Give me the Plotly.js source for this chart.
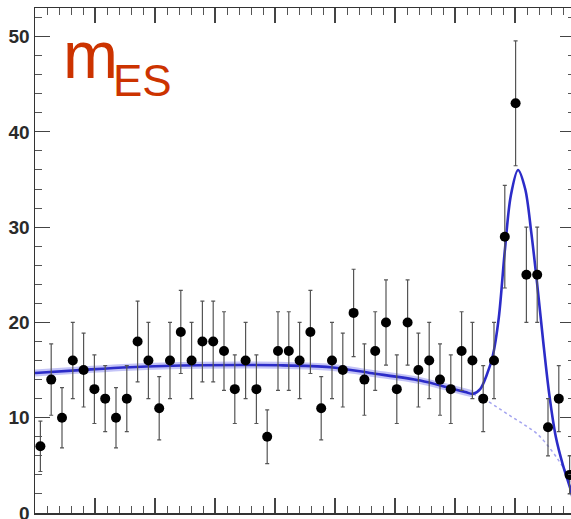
<!DOCTYPE html>
<html>
<head>
<meta charset="utf-8">
<script src="https://cdn.plot.ly/plotly-3.0.1.min.js"></script>
<style>
  html, body { margin: 0; padding: 0; background: #ffffff; overflow: hidden; }
  #plot { width: 580px; height: 519px; }
</style>
</head>
<body>
<div id="plot"></div>
<script>
// Histogram of m_ES: 50 bins from 5.20 to 5.29 GeV/c^2
const binLow = 5.20;
const binWidth = 0.0018;
const eventCounts = [7, 14, 10, 16, 15, 13, 12, 10, 12, 18,
                     16, 11, 16, 19, 16, 18, 18, 17, 13, 16,
                     13, 8, 17, 17, 16, 19, 11, 16, 15, 21,
                     14, 17, 20, 13, 20, 15, 16, 14, 13, 17,
                     16, 12, 16, 29, 43, 25, 25, 9, 12, 4];

// Total fit (background + signal peak)
const fitMass  = [5.2000, 5.2075, 5.2158, 5.2275, 5.2408, 5.2492, 5.2558, 5.2642, 5.2692, 5.2717,
                  5.2730, 5.2742, 5.2753, 5.2763, 5.2773, 5.2783, 5.2793, 5.2805, 5.2817, 5.2827,
                  5.2837, 5.2847, 5.2857, 5.2868, 5.2880, 5.2892, 5.2900];
const fitCount = [14.7, 15.0, 15.3, 15.5, 15.5, 15.3, 14.7, 13.9, 13.1, 12.7,
                  12.5, 13.0, 14.5, 16.5, 20.5, 27.5, 33.3, 36.0, 34.0, 29.5,
                  24.0, 18.0, 12.5, 8.0, 5.0, 2.6, 0.5];

// Background component
const bgMass  = [5.2000, 5.2075, 5.2158, 5.2275, 5.2408, 5.2492, 5.2558, 5.2642, 5.2692, 5.2717,
                 5.2730, 5.2750, 5.2775, 5.2797, 5.2817, 5.2837, 5.2858, 5.2875, 5.2888, 5.2900];
const bgCount = [14.7, 15.0, 15.3, 15.5, 15.5, 15.3, 14.7, 13.9, 13.1, 12.7,
                 12.5, 11.9, 10.9, 10.0, 9.2, 8.3, 6.8, 5.3, 3.9, 0.5];

const yTickVals = [0, 10, 20, 30, 40, 50];
const yTickText = ['0', '10', '20', '30', '40', '50'];

const binCenters = eventCounts.map((_, i) => binLow + (i + 0.5) * binWidth);

const peakStart = 5.2730;
const bgLeftX = [], bgLeftY = [], bgRightX = [], bgRightY = [];
bgMass.forEach((m, i) => {
  if (m <= peakStart) { bgLeftX.push(m); bgLeftY.push(bgCount[i]); }
  if (m >= peakStart) { bgRightX.push(m); bgRightY.push(bgCount[i]); }
});

const traces = [
  {
    x: bgLeftX, y: bgLeftY, type: 'scatter', mode: 'lines',
    line: { color: 'rgba(70,70,230,0.32)', width: 7, shape: 'spline' },
    hoverinfo: 'skip'
  },
  {
    x: bgRightX, y: bgRightY, type: 'scatter', mode: 'lines',
    line: { color: 'rgba(90,90,225,0.55)', width: 1.5, dash: 'dot', shape: 'spline' },
    hoverinfo: 'skip'
  },
  {
    x: fitMass, y: fitCount, type: 'scatter', mode: 'lines',
    line: { color: '#2c2cc8', width: 2.6, shape: 'spline', smoothing: 0.9 },
    hoverinfo: 'skip'
  },
  {
    x: binCenters, y: eventCounts, type: 'scatter', mode: 'markers',
    marker: { color: '#000000', size: 10 },
    error_y: { type: 'sqrt', color: '#555555', thickness: 1.2, width: 2 }
  }
];

const axisCommon = {
  showline: true, linecolor: '#333333', linewidth: 1.5,
  mirror: 'allticks', ticks: 'inside', ticklen: 15, tickwidth: 1.2, tickcolor: '#444444',
  showgrid: false, zeroline: false
};

const layout = {
  width: 580, height: 519,
  margin: { l: 35, r: 5, t: 8, b: 6 },
  paper_bgcolor: '#ffffff', plot_bgcolor: '#ffffff',
  showlegend: false,
  xaxis: Object.assign({}, axisCommon, {
    range: [5.20, 5.29], dtick: 0.01, tick0: 5.20, showticklabels: false,
    minor: { dtick: 0.002, ticklen: 7, tickcolor: '#555555', tickwidth: 1, ticks: 'inside' }
  }),
  yaxis: Object.assign({}, axisCommon, {
    range: [0, 53], tickvals: yTickVals, ticktext: yTickText,
    ticklabelstandoff: 0, ticklabeloverflow: 'allow',
    tickfont: { family: 'Liberation Sans, Arial, sans-serif', size: 19, color: '#2a2a2a', weight: 'bold' },
    minor: { dtick: 2, ticklen: 7, tickcolor: '#555555', tickwidth: 1, ticks: 'inside' }
  }),
  annotations: [
    {
      xref: 'paper', yref: 'paper', x: 0.048, y: 0.83, xanchor: 'left', yanchor: 'bottom',
      text: 'm', showarrow: false,
      font: { family: 'Liberation Sans, Arial, sans-serif', size: 66, color: '#cc3300' }
    },
    {
      xref: 'paper', yref: 'paper', x: 0.141, y: 0.804, xanchor: 'left', yanchor: 'bottom',
      text: 'ES', showarrow: false,
      font: { family: 'Liberation Sans, Arial, sans-serif', size: 44, color: '#cc3300' }
    }
  ]
};

Plotly.newPlot('plot', traces, layout, { staticPlot: true, displayModeBar: false });
</script>
</body>
</html>
